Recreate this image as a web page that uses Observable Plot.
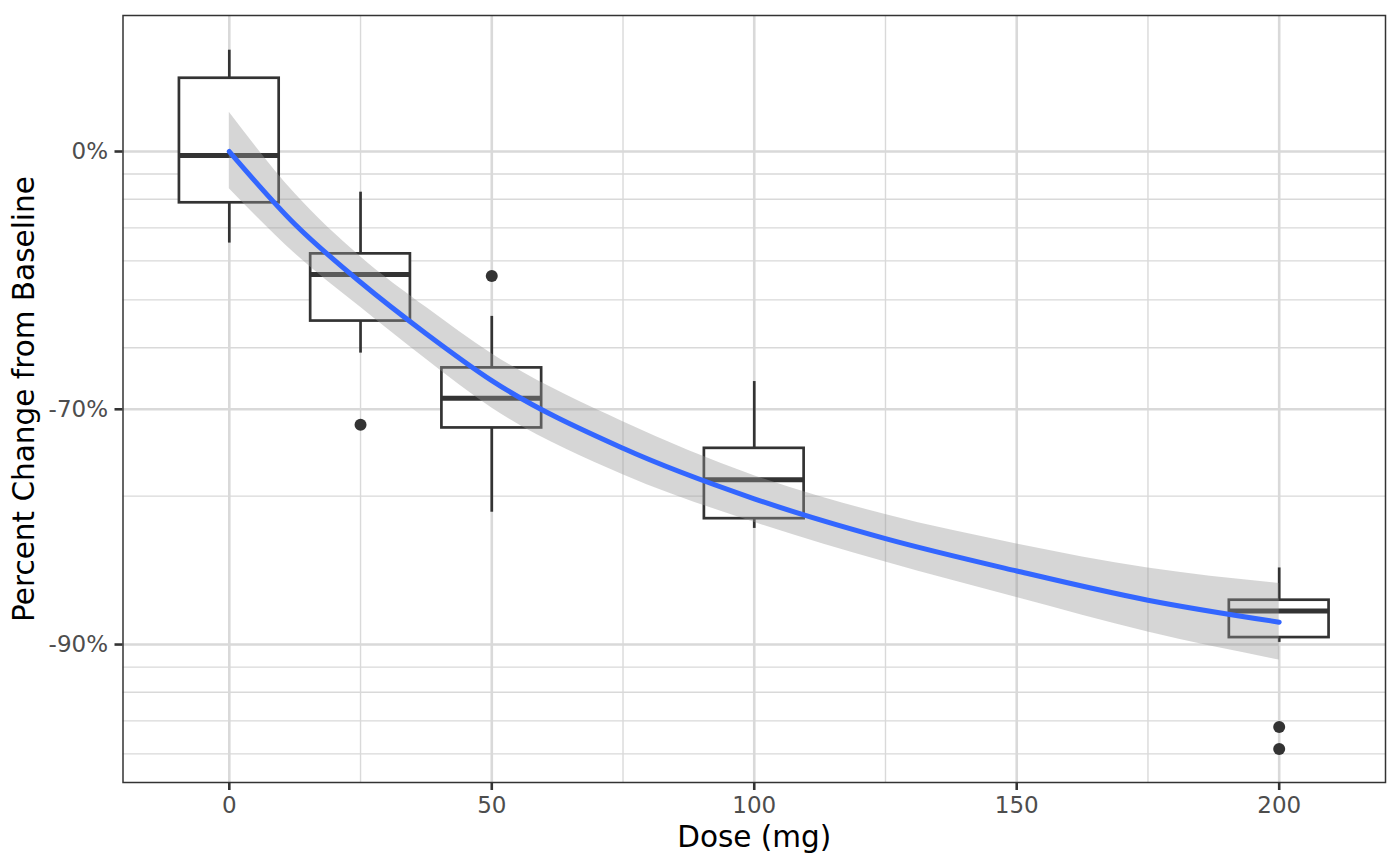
<!DOCTYPE html>
<html>
<head>
<meta charset="utf-8">
<script src="https://cdn.jsdelivr.net/npm/d3@7"></script>
<script src="https://cdn.jsdelivr.net/npm/@observablehq/plot@0.6"></script>
<style>
  html, body { margin: 0; padding: 0; background: #ffffff; }
  svg { display: block; }
</style>
</head>
<body>
<div id="chart"></div>
<script>
// ---- Data (percent change from baseline, as fractions) ----
const doses        = [0, 25, 50, 100, 200];
const whiskerHigh  = [0.605, -0.173, -0.537, -0.6585, -0.857];
const q3           = [0.408, -0.380, -0.636, -0.750, -0.877];
const median       = [-0.0185, -0.437, -0.684, -0.784, -0.883];
const q1           = [-0.213, -0.547, -0.725, -0.820, -0.8967];
const whiskerLow   = [-0.348, -0.610, -0.8145, -0.828, -0.899];

const outlierDose  = [25, 50, 200, 200];
const outlierValue = [-0.721, -0.441, -0.932, -0.9386];

const fitDose      = [0, 12.5, 25, 37.5, 50, 75, 100, 125, 150, 175, 200];
const fitValue     = [0, -0.288, -0.457, -0.573, -0.657, -0.750, -0.8025, -0.836, -0.859, -0.877, -0.889];
const fitUpper     = [0.2015, -0.178, -0.388, -0.517, -0.611, -0.717, -0.780, -0.8165, -0.840, -0.857, -0.867];
const fitLower     = [-0.160, -0.379, -0.517, -0.621, -0.698, -0.779, -0.823, -0.853, -0.8755, -0.894, -0.907];

const xMajor = [0, 50, 100, 150, 200];
const xMinor = [25, 75, 125, 175];
const yMajor = [0, -0.7, -0.9];
const yMinor = [-0.1, -0.2, -0.3, -0.4, -0.5, -0.6, -0.8, -0.91, -0.92, -0.93, -0.94];

// ---- Tables ----
const boxes = doses.map((d, i) => ({
  dose: d, lo: whiskerLow[i], q1: q1[i], med: median[i], q3: q3[i], hi: whiskerHigh[i]
}));
const outliers = outlierDose.map((d, i) => ({dose: d, value: outlierValue[i]}));
const fit = fitDose.map((d, i) => ({dose: d, value: fitValue[i], lower: fitLower[i], upper: fitUpper[i]}));

const tr = v => 1 + v;        // plotted on log(1 + change)
const halfW = 9.5;            // box half-width in mg
const ink = "#333333";
const gridCol = "#d9d9d9";

const chart = Plot.plot({
  width: 1400,
  height: 866,
  marginLeft: 122.5,
  marginRight: 15,
  marginTop: 15,
  marginBottom: 84,
  style: {fontFamily: "DejaVu Sans", background: "#ffffff"},
  x: {domain: [-20.25, 220.25], label: null},
  y: {type: "log", domain: [0.0525, 1.8874], label: null},
  marks: [
    // grid
    Plot.ruleY(yMinor.map(tr), {stroke: gridCol, strokeWidth: 1.4}),
    Plot.ruleX(xMinor, {stroke: gridCol, strokeWidth: 1.4}),
    Plot.ruleY(yMajor.map(tr), {stroke: gridCol, strokeWidth: 2.6}),
    Plot.ruleX(xMajor, {stroke: gridCol, strokeWidth: 2.6}),
    // boxplots
    Plot.ruleX(boxes, {x: "dose", y1: d => tr(d.q3), y2: d => tr(d.hi), stroke: ink, strokeWidth: 2.7}),
    Plot.ruleX(boxes, {x: "dose", y1: d => tr(d.lo), y2: d => tr(d.q1), stroke: ink, strokeWidth: 2.7}),
    Plot.rect(boxes, {x1: d => d.dose - halfW, x2: d => d.dose + halfW, y1: d => tr(d.q1), y2: d => tr(d.q3),
                      fill: "white", stroke: ink, strokeWidth: 2.7}),
    Plot.ruleY(boxes, {y: d => tr(d.med), x1: d => d.dose - halfW, x2: d => d.dose + halfW, stroke: ink, strokeWidth: 5}),
    Plot.dot(outliers, {x: "dose", y: d => tr(d.value), r: 6, fill: ink, stroke: null}),
    // smooth fit
    Plot.areaY(fit, {x: "dose", y1: d => tr(d.lower), y2: d => tr(d.upper), fill: "#999999", fillOpacity: 0.4, curve: "monotone-x"}),
    Plot.line(fit, {x: "dose", y: d => tr(d.value), stroke: "#3366FF", strokeWidth: 5, curve: "monotone-x"}),
    // frame
    Plot.frame({stroke: ink, strokeWidth: 1.5}),
    // axes
    Plot.axisX({ticks: xMajor, tickSize: 8, tickPadding: 6, fontSize: 23, stroke: ink, fill: "#4d4d4d",
                strokeWidth: 2.6, label: null}),
    Plot.axisY({ticks: yMajor.map(tr), tickSize: 8, tickPadding: 7, fontSize: 23, stroke: ink, fill: "#4d4d4d",
                strokeWidth: 2.6, label: null, tickFormat: d => Math.round((d - 1) * 100) + "%"}),
    // axis titles
    Plot.text(["Dose (mg)"], {frameAnchor: "bottom", dy: 54.7, fontSize: 29.5, fill: "#000000",
                              textAnchor: "middle", lineAnchor: "middle"}),
    Plot.text(["Percent Change from Baseline"], {frameAnchor: "left", dx: -98, rotate: -90, fontSize: 29.5, fill: "#000000",
                              textAnchor: "middle", lineAnchor: "middle"})
  ]
});
document.getElementById("chart").appendChild(chart);
</script>
</body>
</html>
